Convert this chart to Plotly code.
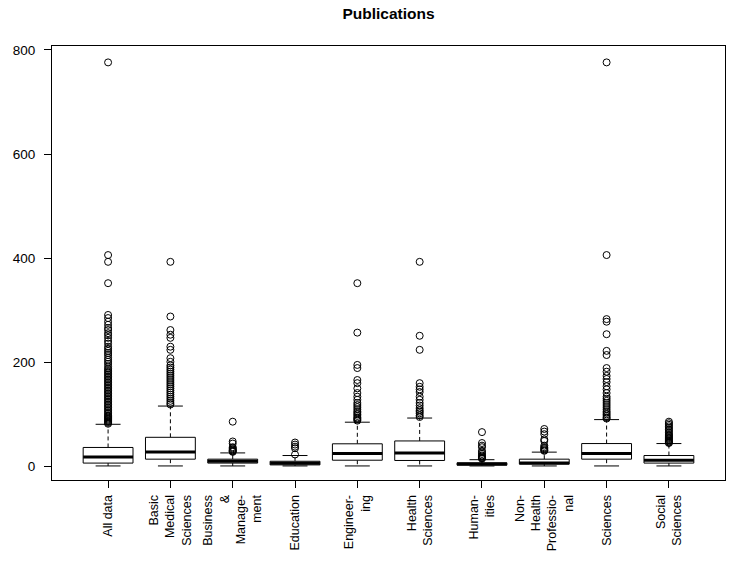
import plotly.graph_objects as go

categories = ["All data", "Basic<br>Medical<br>Sciences", "Business<br>&<br>Manage-<br>ment",
              "Education", "Engineer-<br>ing", "Health<br>Sciences", "Human-<br>ities",
              "Non-<br>Health<br>Professio-<br>nal", "Sciences", "Social<br>Sciences"]

lower_whisker = [1, 1, 1, 1, 1, 1, 1, 1, 1, 1]
q1 = [6.5, 14, 6.5, 3, 12, 11.5, 2.5, 4.5, 14, 6.5]
median = [18, 28, 10, 6, 25, 26, 4.5, 6.5, 25, 12]
q3 = [36.5, 56, 14, 10, 43.5, 49, 7, 14, 44, 21]
upper_whisker = [81, 116, 26, 21, 85, 93, 13, 27.5, 90, 44]

outliers = [
    [776, 406, 393, 352, 291, 285, 278, 272, 266, 262, 256, 252, 247, 241, 236, 230, 226,
     222, 218, 214, 209, 205, 201, 197, 192, 188, 185, 182, 179, 176, 173, 170, 167, 164,
     161, 158, 155, 152, 149, 146, 143, 140, 137, 134, 131, 128, 125, 122, 119, 116, 113,
     110, 107, 104, 101, 98, 96, 94, 92, 90, 88, 86, 84, 82],
    [393, 288, 262, 253, 247, 230, 224, 208, 201, 194, 190, 186, 182, 178, 174, 170, 166,
     162, 158, 154, 150, 146, 142, 138, 134, 130, 126, 122, 119],
    [86, 48, 44, 37, 35, 33, 31, 30, 29, 28],
    [46, 42, 38, 35, 23],
    [352, 257, 195, 189, 166, 160, 150, 141, 134, 128, 122, 118, 114, 110, 106, 103, 100,
     97, 94, 92, 90, 88],
    [393, 251, 224, 160, 153, 148, 143, 134, 128, 122, 117, 112, 108, 105, 102, 98, 95],
    [66, 45, 40, 37, 30, 27, 24, 21, 19, 17, 16, 15],
    [72, 67, 62, 52, 49, 40, 37, 35, 33, 31, 30],
    [776, 406, 283, 278, 254, 222, 214, 189, 182, 174, 168, 162, 154, 148, 141, 134, 130,
     126, 122, 118, 114, 110, 106, 103, 100, 97, 94, 92],
    [86, 83, 80, 77, 74, 71, 68, 65, 62, 60, 58, 56, 54, 52, 50, 48, 46, 45],
]

y_ticks = [0, 200, 400, 600, 800]

BOX_HALF = 0.4
CAP_HALF = 0.2

fig = go.Figure()

box_x, box_y = [], []
med_x, med_y = [], []
wh_x, wh_y = [], []
cap_x, cap_y = [], []
out_x, out_y = [], []
for i in range(len(categories)):
    p = i + 1
    box_x += [p - BOX_HALF, p + BOX_HALF, p + BOX_HALF, p - BOX_HALF, p - BOX_HALF, None]
    box_y += [q1[i], q1[i], q3[i], q3[i], q1[i], None]
    med_x += [p - BOX_HALF, p + BOX_HALF, None]
    med_y += [median[i], median[i], None]
    wh_x += [p, p, None, p, p, None]
    wh_y += [q3[i], upper_whisker[i], None, q1[i], lower_whisker[i], None]
    cap_x += [p - CAP_HALF, p + CAP_HALF, None, p - CAP_HALF, p + CAP_HALF, None]
    cap_y += [upper_whisker[i], upper_whisker[i], None, lower_whisker[i], lower_whisker[i], None]
    out_x += [p] * len(outliers[i])
    out_y += outliers[i]

fig.add_trace(go.Scatter(x=wh_x, y=wh_y, mode="lines",
                         line=dict(color="black", width=1, dash="4px,3px"), hoverinfo="skip"))
fig.add_trace(go.Scatter(x=cap_x, y=cap_y, mode="lines",
                         line=dict(color="black", width=1), hoverinfo="skip"))
fig.add_trace(go.Scatter(x=box_x, y=box_y, mode="lines", fill="toself", fillcolor="white",
                         line=dict(color="black", width=1), hoverinfo="skip"))
fig.add_trace(go.Scatter(x=med_x, y=med_y, mode="lines",
                         line=dict(color="black", width=3), hoverinfo="skip"))
fig.add_trace(go.Scatter(x=out_x, y=out_y, mode="markers",
                         marker=dict(symbol="circle-open", size=7, color="black",
                                     line=dict(width=1, color="black"))))

fig.update_layout(
    width=733, height=563,
    paper_bgcolor="white", plot_bgcolor="white",
    showlegend=False,
    margin=dict(l=52, r=8, t=46, b=83),
    font=dict(family="Liberation Sans, Arial, sans-serif", size=13, color="black"),
    title=dict(text="<b>Publications</b>", x=0.5, xref="paper", xanchor="center",
               y=1 - 19 / 563, yref="container", yanchor="bottom",
               font=dict(size=15.5, color="black")),
)
fig.update_xaxes(
    range=[0.1, 10.9], tickmode="array", tickvals=list(range(1, len(categories) + 1)),
    ticktext=categories, tickangle=-90, ticks="outside", ticklen=7, tickcolor="black",
    showline=True, linecolor="black", linewidth=1, mirror=True, showgrid=False,
    zeroline=False, tickfont=dict(size=12.5), ticklabelstandoff=2,
)
fig.update_yaxes(
    range=[-26, 807.5], tickmode="array", tickvals=y_ticks, ticks="outside", ticklen=7,
    tickcolor="black", showline=True, linecolor="black", linewidth=1, mirror=True,
    showgrid=False, zeroline=False, tickfont=dict(size=13.5), ticklabelstandoff=6,
)

fig.write_html("out.html", config={"displayModeBar": False},
               post_script="document.body.style.margin='0';")
